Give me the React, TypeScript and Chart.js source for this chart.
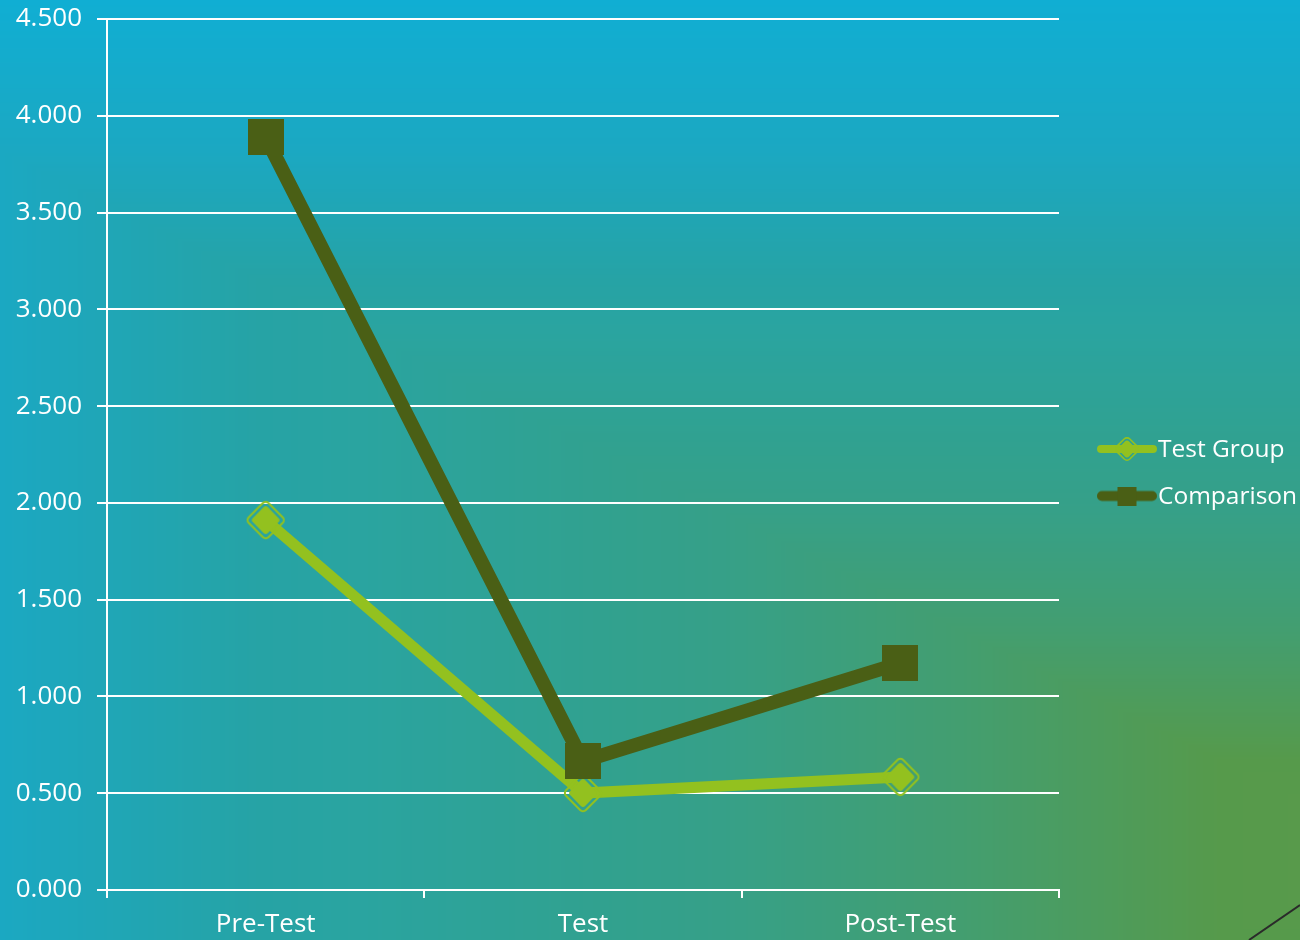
import React, { useEffect, useRef } from "react";
import { Chart, registerables } from "chart.js";

Chart.register(...registerables);

const categories = ["Pre-Test", "Test", "Post-Test"];
const testGroup = [1.911, 0.501, 0.584];
const comparison = [3.889, 0.666, 1.172];
const seriesNames = ["Test Group", "Comparison"];

const LIME = "#93c11f";
const OLIVE = "#4a5f15";
const FONT = "'Open Sans', sans-serif";

// background: rectangular-path gradient stops (distance -> colour)
const BG_STOPS: [number, string][] = [
  [0, "#5a994a"],
  [90, "#569a4b"],
  [220, "#439e70"],
  [340, "#36a088"],
  [400, "#31a18f"],
  [520, "#2aa4a0"],
  [570, "#26a3a5"],
  [700, "#1ba8c2"],
  [850, "#10aed3"],
];

function hex(c: string) {
  return [parseInt(c.slice(1, 3), 16), parseInt(c.slice(3, 5), 16), parseInt(c.slice(5, 7), 16)];
}

function makeBackground(W: number, H: number) {
  const c = document.createElement("canvas");
  c.width = W;
  c.height = H;
  const ctx = c.getContext("2d")!;
  const img = ctx.createImageData(W, H);
  const stops = BG_STOPS.map(([u, col]) => [u, ...hex(col)]);
  const cx = 1400;
  const cy = 850;
  for (let y = 0; y < H; y++) {
    for (let x = 0; x < W; x++) {
      const u = Math.max(Math.abs(cx - x) / 2, Math.abs(cy - y));
      let r, g, b;
      if (u <= stops[0][0]) {
        [, r, g, b] = stops[0];
      } else if (u >= stops[stops.length - 1][0]) {
        [, r, g, b] = stops[stops.length - 1];
      } else {
        let i = 0;
        while (u > stops[i + 1][0]) i++;
        const a = stops[i];
        const z = stops[i + 1];
        const t = (u - a[0]) / (z[0] - a[0]);
        r = a[1] + (z[1] - a[1]) * t;
        g = a[2] + (z[2] - a[2]) * t;
        b = a[3] + (z[3] - a[3]) * t;
      }
      const k = (y * W + x) * 4;
      img.data[k] = r;
      img.data[k + 1] = g;
      img.data[k + 2] = b;
      img.data[k + 3] = 255;
    }
  }
  ctx.putImageData(img, 0, 0);
  return c;
}

function diamondImage(size: number, withLine = false, lineW = 0) {
  const c = document.createElement("canvas");
  const w = withLine ? lineW : size;
  c.width = w;
  c.height = size;
  const ctx = c.getContext("2d")!;
  const cx = w / 2;
  const cy = size / 2;
  if (withLine) {
    ctx.strokeStyle = LIME;
    ctx.lineWidth = 8;
    ctx.lineCap = "round";
    ctx.beginPath();
    ctx.moveTo(4, cy);
    ctx.lineTo(w - 4, cy);
    ctx.stroke();
  }
  const drawDiamond = (r: number, rad: number) => {
    ctx.save();
    ctx.translate(cx, cy);
    ctx.rotate(Math.PI / 4);
    const s = r / Math.SQRT2;
    ctx.beginPath();
    (ctx as any).roundRect(-s, -s, 2 * s, 2 * s, rad);
    ctx.restore();
  };
  const inner = withLine ? size / 2 - 4.5 : size / 2 - 6;
  ctx.fillStyle = LIME;
  drawDiamond(inner, 3);
  ctx.fill();
  ctx.strokeStyle = LIME;
  ctx.lineWidth = withLine ? 1.6 : 2;
  drawDiamond(size / 2 - 1.2, 4);
  ctx.stroke();
  return c;
}

function squareImage(size: number, withLine = false, lineW = 0) {
  const c = document.createElement("canvas");
  const w = withLine ? lineW : size;
  const h = size;
  c.width = w;
  c.height = h;
  const ctx = c.getContext("2d")!;
  const cx = w / 2;
  const cy = h / 2;
  if (withLine) {
    ctx.strokeStyle = OLIVE;
    ctx.lineWidth = 10;
    ctx.lineCap = "round";
    ctx.beginPath();
    ctx.moveTo(5, cy);
    ctx.lineTo(w - 5, cy);
    ctx.stroke();
  }
  ctx.fillStyle = OLIVE;
  ctx.fillRect(cx - size / 2, cy - size / 2, size, size);
  return c;
}

export default function App() {
  const ref = useRef<HTMLCanvasElement>(null);

  useEffect(() => {
    document.body.style.margin = "0";
    const canvas = ref.current!;
    const bg = makeBackground(1300, 940);
    const diamond = diamondImage(42);
    const square = squareImage(36);
    const legDiamond = diamondImage(28, true, 60);
    const legSquare = squareImage(19, true, 60);

    const bgPlugin = {
      id: "bg",
      beforeDraw(chart: any) {
        chart.ctx.drawImage(bg, 0, 0, chart.width, chart.height);
      },
      afterDraw(chart: any) {
        const ctx = chart.ctx;
        ctx.save();
        ctx.strokeStyle = "#2a2a2a";
        ctx.lineWidth = 2;
        ctx.beginPath();
        ctx.moveTo(1249, 940);
        ctx.lineTo(1300, 905);
        ctx.stroke();
        const items = [
          { img: legDiamond, label: seriesNames[0], y: 450 },
          { img: legSquare, label: seriesNames[1], y: 497 },
        ];
        ctx.font = `24.5px ${FONT}`;
        ctx.fillStyle = "#ffffff";
        ctx.textBaseline = "middle";
        ctx.textAlign = "left";
        for (const it of items) {
          ctx.drawImage(it.img, 1097, it.y - 1 - it.img.height / 2);
          ctx.fillText(it.label, 1158, it.y);
        }
        ctx.restore();
      },
    };

    const chart = new Chart(canvas, {
      type: "line",
      data: {
        labels: categories,
        datasets: [
          {
            label: seriesNames[0],
            data: testGroup,
            borderColor: LIME,
            backgroundColor: LIME,
            borderWidth: 11,
            pointStyle: diamond as any,
            pointRadius: 20,
            tension: 0,
            order: 1,
          },
          {
            label: seriesNames[1],
            data: comparison,
            borderColor: OLIVE,
            backgroundColor: OLIVE,
            borderWidth: 14,
            pointStyle: square as any,
            pointRadius: 18,
            tension: 0,
            order: 0,
          },
        ],
      },
      plugins: [bgPlugin],
      options: {
        animation: false,
        responsive: false,
        layout: { autoPadding: false, padding: { top: 19, right: 241, left: 0, bottom: 0 } },
        plugins: {
          legend: { display: false },
          tooltip: { enabled: false },
        },
        scales: {
          x: {
            offset: true,
            afterFit: (s: any) => {
              s.height = 50;
              s.paddingLeft = 0;
              s.paddingRight = 0;
            },
            grid: {
              offset: true,
              drawOnChartArea: false,
              drawTicks: true,
              tickLength: 8,
              color: "#ffffff",
              lineWidth: 2,
            },
            border: { color: "#ffffff", width: 2 },
            ticks: {
              color: "#ffffff",
              font: { family: FONT, size: 26 },
              padding: 11,
              maxRotation: 0,
            },
          },
          y: {
            min: 0,
            max: 4.5,
            afterFit: (s: any) => {
              s.width = 107;
              s.paddingTop = 0;
              s.paddingBottom = 0;
            },
            ticks: {
              stepSize: 0.5,
              color: "#ffffff",
              font: { family: FONT, size: 26 },
              padding: 15,
              callback: (v: any) => Number(v).toFixed(3),
            },
            grid: {
              color: "#ffffff",
              lineWidth: 2,
              tickLength: 10,
            },
            border: { color: "#ffffff", width: 2 },
          },
        },
      },
    });
    return () => chart.destroy();
  }, []);

  return (
    <div style={{ width: 1300, height: 940 }}>
      <canvas ref={ref} width={1300} height={940} style={{ display: "block", width: 1300, height: 940 }} />
    </div>
  );
}
